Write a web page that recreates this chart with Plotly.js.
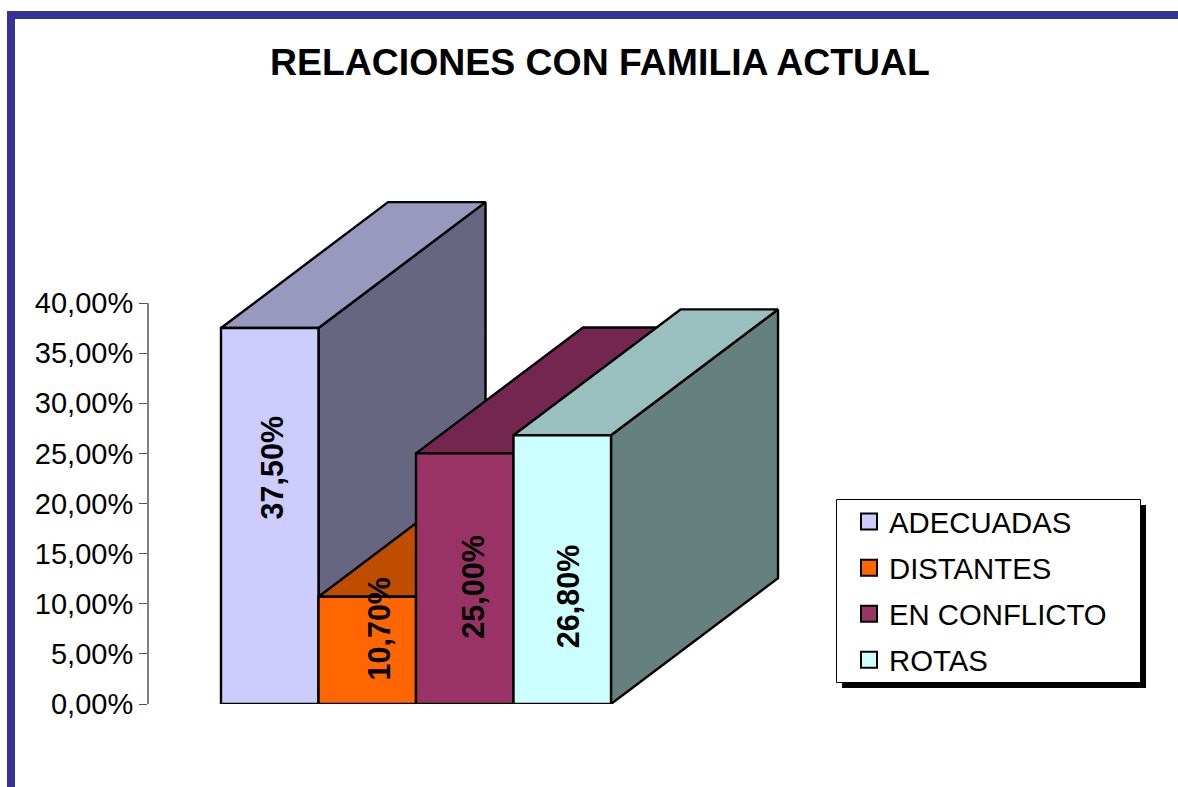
<!DOCTYPE html>
<html><head><meta charset="utf-8">
<script src="https://cdn.plot.ly/plotly-3.0.1.min.js"></script>
<style>html,body{margin:0;padding:0;background:#fff;overflow:hidden}</style>
</head><body><div id="chart" style="width:1178px;height:787px"></div>
<script>
const categories = ["ADECUADAS","DISTANTES","EN CONFLICTO","ROTAS"];
const values = [37.5,10.7,25.0,26.8];
const frontColors = ["#CCCCFF","#FF6600","#993366","#CCFFFF"];
const topColors = ["#9999BF","#BF4D00","#732650","#99BFBF"];
const sideColors = ["#666680","#803300","#4D1A33","#668080"];
const labelX = [0.523,1.617,2.59,3.56];
const labelY = [23.6,7.5,11.66,10.67];
const yTicks = [0,5,10,15,20,25,30,35,40];
const depthX = 1.713, depthY = 12.56, W = 1178, H = 787;
const L = 148, R = 1148, T = 190, B = 704, X0 = 221, UNIT = 97.5, YUNIT = 10.025;
const font = "Liberation Sans, Arial, sans-serif";
const px = v => (v - L) / (R - L), py = v => (B - v) / (B - T);

const face = (xs, ys, color) => ({type:"scatter",mode:"lines",x:xs,y:ys,fill:"toself",fillcolor:color,
  line:{color:"#000",width:2.4,shape:"linear"},showlegend:false,hoverinfo:"skip",cliponaxis:false});
const traces = [];
values.forEach((v,i)=>{
  traces.push(face([i+1,i+1+depthX,i+1+depthX,i+1,i+1],[0,depthY,v+depthY,v,0],sideColors[i]));
  traces.push(face([i,i+1,i+1+depthX,i+depthX,i],[v,v,v+depthY,v+depthY,v],topColors[i]));
  traces.push(face([i,i+1,i+1,i,i],[0,0,v,v,0],frontColors[i]));
});
categories.forEach((c,i)=>traces.push({type:"scatter",mode:"markers",x:[null],y:[null],name:c,legendgroup:c,
  marker:{symbol:"square",size:19,color:frontColors[i],line:{color:"#000",width:2}},hoverinfo:"skip"}));

const annotations = values.map((v,i)=>({xref:"x",yref:"y",x:labelX[i],y:labelY[i],showarrow:false,textangle:-90,
  text:v.toFixed(2).replace(".",",")+"%",font:{family:font,size:30.5,color:"#000",weight:700},xanchor:"center",yanchor:"middle"}));

const shapes = [
 {type:"rect",xref:"paper",yref:"paper",x0:px(842),x1:px(1146),y0:py(688),y1:py(505),fillcolor:"#000",line:{width:0},layer:"below"},
 {type:"rect",xref:"paper",yref:"paper",x0:px(836.5),x1:px(1140.5),y0:py(682.5),y1:py(499.5),fillcolor:"#fff",line:{color:"#000",width:1},layer:"below"},
 {type:"path",xref:"paper",yref:"paper",path:`M ${px(11)} ${py(800)} L ${px(11)} ${py(15)} L ${px(1200)} ${py(15)}`,line:{color:"#333399",width:8},layer:"above"},
 {type:"line",xref:"paper",yref:"y",x0:0,x1:0,y0:0,y1:40,line:{color:"#808080",width:2},layer:"below"}
];

const layout = {
 width:W,height:H,paper_bgcolor:"#fff",plot_bgcolor:"rgba(0,0,0,0)",separators:",.",
 margin:{l:L,r:W-R,t:T,b:H-B,pad:0,autoexpand:false},
 title:{text:"RELACIONES CON FAMILIA ACTUAL",x:600/W,xref:"container",xanchor:"center",y:1-62/H,yref:"container",yanchor:"middle",
   font:{family:font,size:37.4,color:"#000",weight:700}},
 xaxis:{visible:false,range:[(L-X0)/UNIT,(R-X0)/UNIT],fixedrange:true},
 yaxis:{range:[0,(B-T)/YUNIT],tickmode:"array",tickvals:yTicks,ticktext:yTicks.map(t=>t.toFixed(2).replace(".",",")+"%"),
   ticks:"outside",ticklen:8,tickwidth:1,tickcolor:"#555",showline:false,zeroline:false,showgrid:false,
   tickfont:{family:font,size:29,color:"#000"},ticklabelstandoff:0,fixedrange:true},
 legend:{x:px(849),xanchor:"left",y:py(496),yanchor:"top",bgcolor:"rgba(0,0,0,0)",borderwidth:0,tracegroupgap:5,
   font:{family:font,size:29.3,color:"#000"},traceorder:"grouped",itemclick:false,itemdoubleclick:false},
 showlegend:true,shapes,annotations
};
Plotly.newPlot("chart",traces,layout,{displayModeBar:false,responsive:false});
</script></body></html>
